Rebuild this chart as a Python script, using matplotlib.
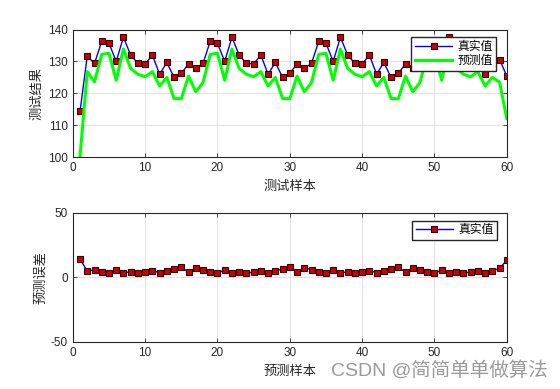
import numpy as np
import matplotlib
matplotlib.use("Agg")
import matplotlib.pyplot as plt

plt.rcParams['font.family'] = ['Liberation Sans', 'Noto Sans CJK SC']
plt.rcParams['axes.unicode_minus'] = False

# ----------------------------------------------------------------------
# data
# ----------------------------------------------------------------------
sample_idx = np.arange(1, 61)

true_vals = [114.4, 131.7, 129.4, 136.3, 135.7, 130.0, 137.6, 132.0, 129.4, 129.2,
             132.0, 126.0, 129.7, 125.0, 126.3, 129.2, 127.8,
             129.4, 136.3, 135.7, 130.0, 137.6, 132.0, 129.4, 129.2, 132.0,
             126.0, 129.7, 125.0, 126.3, 129.2, 127.8,
             129.4, 136.3, 135.7, 130.0, 137.6, 132.0, 129.4, 129.2, 132.0,
             126.0, 129.7, 125.0, 126.3, 129.2, 127.8,
             129.4, 136.3, 135.7, 130.0, 137.6, 132.0, 129.4, 129.2, 132.0,
             126.0, 129.7, 130.6, 125.4]

pred_vals = [100.3, 126.8, 123.6, 132.2, 132.6, 124.1, 133.9, 127.8, 126.0, 125.2,
             126.8, 122.3, 125.0, 118.4, 118.3, 125.4, 120.5,
             123.4, 132.2, 132.6, 124.1, 133.9, 127.8, 126.0, 125.2, 126.8,
             122.3, 125.0, 118.4, 118.3, 125.4, 120.5,
             123.4, 132.2, 132.6, 124.1, 133.9, 127.8, 126.0, 125.2, 126.8,
             122.3, 125.0, 118.4, 118.3, 125.4, 120.5,
             123.4, 132.2, 132.6, 124.1, 133.9, 127.8, 126.0, 125.2, 126.8,
             122.3, 125.0, 123.5, 112.1]

err_vals = np.array(true_vals) - np.array(pred_vals)

top_xticks = [0, 10, 20, 30, 40, 50, 60]
top_yticks = [100, 110, 120, 130, 140]
bot_yticks = [-50, 0, 50]


def style_axes(ax):
    ax.grid(True, color='#dcdcdc', linewidth=0.6)
    ax.set_axisbelow(True)
    ax.tick_params(direction='in', top=True, right=True, labelsize=8.5,
                   colors='#262626', length=3, width=0.6)
    for s in ax.spines.values():
        s.set_linewidth(0.8)
        s.set_color('#262626')


fig = plt.figure(figsize=(5.6, 3.89), dpi=100)

# --- top: true vs predicted ---
ax1 = fig.add_axes([0.130, 0.596, 0.775, 0.328])
ax1.plot(sample_idx, true_vals, color='#0000ff', lw=1.0, marker='s',
         markersize=5, markerfacecolor='#cc0000', markeredgecolor='#300000',
         markeredgewidth=0.8, label='真实值')
ax1.plot(sample_idx, pred_vals, color='#00ff00', lw=2.2, label='预测值')
ax1.set_xlim(0, 60)
ax1.set_ylim(100, 140)
ax1.set_xticks(top_xticks)
ax1.set_yticks(top_yticks)
ax1.set_xlabel('测试样本', fontsize=9.5, color='#262626', labelpad=5)
ax1.set_ylabel('测试结果', fontsize=9.5, color='#262626', labelpad=3)
style_axes(ax1)
ax1.legend(loc='upper right', bbox_to_anchor=(0.975, 0.941), borderaxespad=0,
           fontsize=8.5, fancybox=False, framealpha=1, edgecolor='#262626',
           handlelength=3.2, borderpad=0.3, labelspacing=0.2, handletextpad=0.4)

# --- bottom: error ---
ax2 = fig.add_axes([0.130, 0.121, 0.775, 0.332])
ax2.plot(sample_idx, err_vals, color='#0000ff', lw=1.0, marker='s',
         markersize=5, markerfacecolor='#cc0000', markeredgecolor='#300000',
         markeredgewidth=0.8, label='真实值')
ax2.set_xlim(0, 60)
ax2.set_ylim(-50, 50)
ax2.set_xticks(top_xticks)
ax2.set_yticks(bot_yticks)
ax2.set_xlabel('预测样本', fontsize=9.5, color='#262626', labelpad=5)
ax2.set_ylabel('预测误差', fontsize=9.5, color='#262626', labelpad=3)
style_axes(ax2)
ax2.legend(loc='upper right', bbox_to_anchor=(0.977, 0.938), borderaxespad=0,
           fontsize=8.5, fancybox=False, framealpha=1, edgecolor='#262626',
           handlelength=3.2, borderpad=0.3, handletextpad=0.4)

fig.text(0.978, 0.048, 'CSDN @简简单单做算法', fontsize=14, color='#9a9a9a',
         ha='right', va='center')

fig.savefig('out.png', dpi=100)
